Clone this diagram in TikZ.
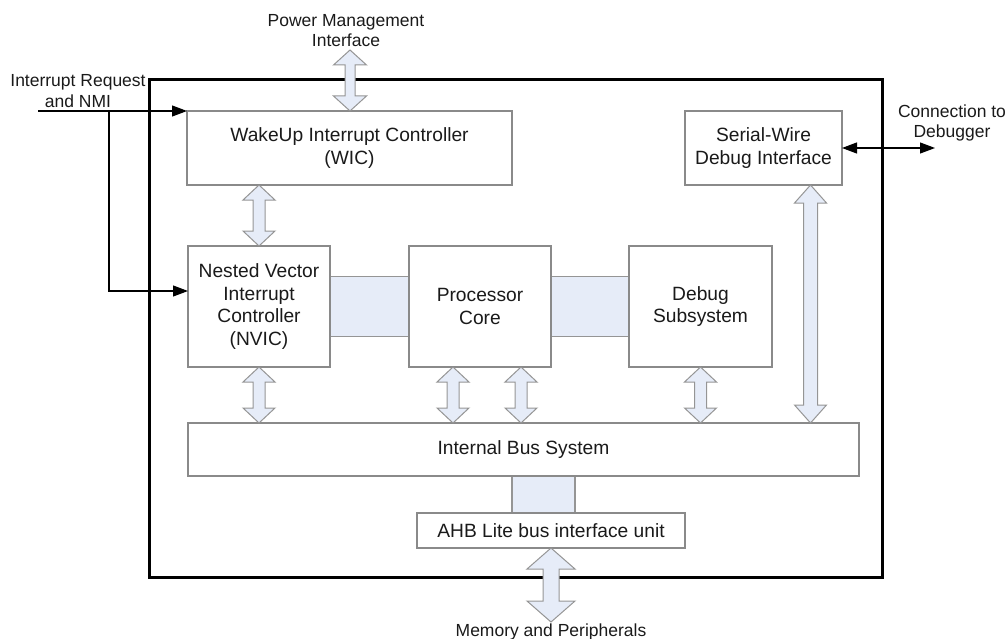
\documentclass[tikz,border=0pt]{standalone}
\usepackage{fontspec}
\setmainfont{Liberation Sans}
\usetikzlibrary{calc,arrows.meta}
\definecolor{busfill}{HTML}{E6ECF8}
\definecolor{boxline}{HTML}{8A8A8A}
\definecolor{busline}{HTML}{959595}
\definecolor{txt}{HTML}{1A1A1A}
\newcommand\vbus[5]{\path[busarrow] let \p1=#1, \p2=#2 in
 (\x1,\y1) -- (\x1+#3pt,\y1-#5pt) -- (\x1+#4pt,\y1-#5pt) -- (\x1+#4pt,\y2+#5pt) -- (\x1+#3pt,\y2+#5pt) -- (\x1,\y2) -- (\x1-#3pt,\y2+#5pt) -- (\x1-#4pt,\y2+#5pt) -- (\x1-#4pt,\y1-#5pt) -- (\x1-#3pt,\y1-#5pt) -- cycle;}
\begin{document}
\begin{tikzpicture}[x=1pt,y=-1pt,
  box/.style={draw=boxline,line width=1.1pt,fill=white,inner sep=0pt,outer sep=0pt,anchor=north west,align=center,text=txt,font=\fontsize{19.2}{22.7}\selectfont},
  chipbox/.style={draw=black,line width=3pt,inner sep=0pt,outer sep=0pt,anchor=north west},
  lbl/.style={align=center,text=txt,inner sep=0pt,font=\fontsize{17.5}{20.5}\selectfont},
  busrect/.style={draw=busline,fill=busfill,line width=1.1pt},
  busarrow/.style={draw=busline,fill=busfill,line width=1pt,line join=miter},
  sig/.style={draw=black,line width=1.1pt,-{Triangle[length=15pt,width=11pt]}},
  sigboth/.style={draw=black,line width=1.1pt,{Triangle[length=15pt,width=11pt]}-{Triangle[length=15pt,width=11pt]}}]
\useasboundingbox (0,0) rectangle (1008,639);
% chip outline
\node[chipbox,minimum width=733pt,minimum height=497pt] (chip) at (149,80) {};
% boxes
\node[box,minimum width=325pt,minimum height=74pt] (wic) at (187,111) {WakeUp Interrupt Controller\\(WIC)};
\node[box,minimum width=157pt,minimum height=74pt] (swd) at (685,111) {Serial-Wire\\Debug Interface};
\node[box,minimum width=142pt,minimum height=121pt] (nvic) at (188,246) {Nested Vector\\Interrupt\\Controller\\(NVIC)};
\node[box,minimum width=142pt,minimum height=121pt] (core) at (409,246) {Processor\\Core};
\node[box,minimum width=143pt,minimum height=121pt] (dbg) at (629,246) {Debug\\Subsystem};
\node[box,minimum width=671pt,minimum height=53pt] (bus) at (188,423) {Internal Bus System};
\node[box,minimum width=268pt,minimum height=35pt] (ahb) at (417,513) {AHB Lite bus interface unit};
% flat bus connectors
\draw[busrect] ($(nvic.east)+(0,-30)$) rectangle ($(core.west)+(0,30)$);
\draw[busrect] ($(core.east)+(0,-30)$) rectangle ($(dbg.west)+(0,30)$);
\draw[busrect] ($(ahb.north)+(-39,0)$) rectangle ($(ahb.north |- bus.south)+(24,0)$);
\draw[boxline,line width=1.1pt] (nvic.north west) rectangle (nvic.south east);
\draw[boxline,line width=1.1pt] (core.north west) rectangle (core.south east);
\draw[boxline,line width=1.1pt] (dbg.north west) rectangle (dbg.south east);
\draw[boxline,line width=1.1pt] (bus.north west) rectangle (bus.south east);
\draw[boxline,line width=1.1pt] (ahb.north west) rectangle (ahb.south east);
% labels
\node[lbl] (pmi) at (346,30.5) {Power Management\\Interface};
\node[lbl] (irq) at (78,91) {Interrupt Request\\and NMI};
\node[lbl] (dbgl) at (952,123) {Connection to\\Debugger};
\node[lbl] (mem) at (551,631.5) {Memory and Peripherals};
% coordinates
\coordinate (pmtop) at (350,50);
\coordinate (memend) at (551,622);
\coordinate (irqin) at (38,111);
\coordinate (irqv) at (109,111);
\coordinate (dbgend) at (935,148);
% block arrows
\vbus{(pmtop)}{(wic.north)}{16.5}{5}{15}
\vbus{(wic.south -| nvic.north)}{(nvic.north)}{16}{6}{15}
\vbus{(nvic.south)}{(nvic.south |- bus.north)}{16}{6}{15}
\vbus{($(core.south)+(-27,0)$)}{($(core.south |- bus.north)+(-27,0)$)}{16}{6}{15}
\vbus{($(core.south)+(41,0)$)}{($(core.south |- bus.north)+(41,0)$)}{16}{6}{15}
\vbus{(dbg.south)}{(dbg.south |- bus.north)}{16}{6}{15}
\vbus{($(swd.south)+(47,0)$)}{($(swd.south |- bus.north)+(47,0)$)}{16}{7}{18}
\vbus{(ahb.south)}{(memend)}{24}{8}{21}
% signal lines
\draw[sig] (irqin) -- (wic.north west);
\draw[sig] (irqv) |- ($(nvic.west)+(0,-15.5)$);
\draw[sigboth] (swd.east) -- (dbgend);
\end{tikzpicture}
\end{document}
